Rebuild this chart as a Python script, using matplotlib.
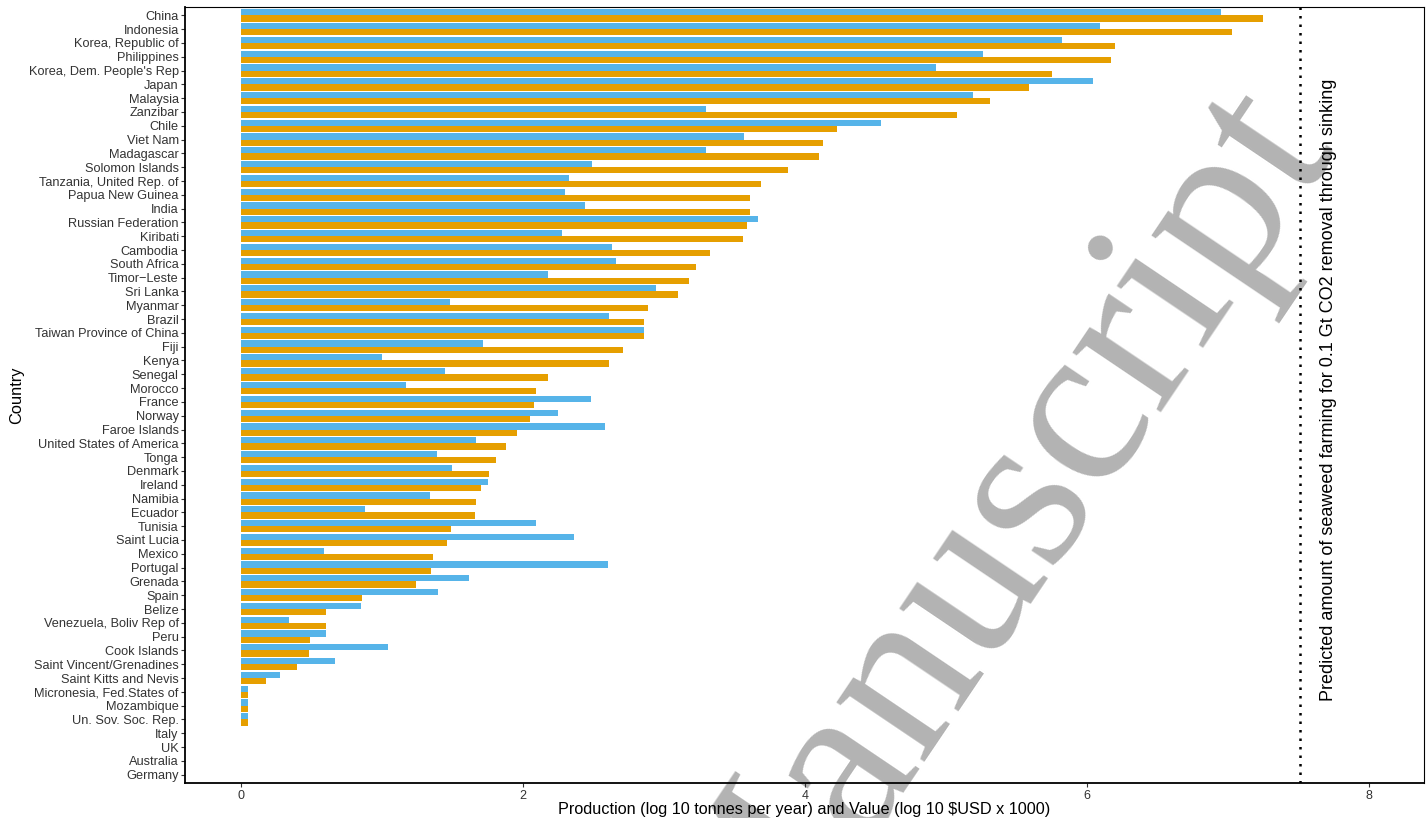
import matplotlib
matplotlib.use("Agg")
import matplotlib.pyplot as plt
import numpy as np

countries = [
    "China", "Indonesia", "Korea, Republic of", "Philippines", "Korea, Dem. People's Rep",
    "Japan", "Malaysia", "Zanzibar", "Chile", "Viet Nam", "Madagascar", "Solomon Islands",
    "Tanzania, United Rep. of", "Papua New Guinea", "India", "Russian Federation", "Kiribati",
    "Cambodia", "South Africa", "Timor\u2212Leste", "Sri Lanka", "Myanmar", "Brazil",
    "Taiwan Province of China", "Fiji", "Kenya", "Senegal", "Morocco", "France", "Norway",
    "Faroe Islands", "United States of America", "Tonga", "Denmark", "Ireland", "Namibia",
    "Ecuador", "Tunisia", "Saint Lucia", "Mexico", "Portugal", "Grenada", "Spain", "Belize",
    "Venezuela, Boliv Rep of", "Peru", "Cook Islands", "Saint Vincent/Grenadines",
    "Saint Kitts and Nevis", "Micronesia, Fed.States of", "Mozambique", "Un. Sov. Soc. Rep.",
    "Italy", "UK", "Australia", "Germany",
]

# blue bars (upper bar of each pair)
blue_vals = [
    6.95, 6.09, 5.82, 5.26, 4.93, 6.04, 5.19, 3.30, 4.54, 3.57, 3.30, 2.49,
    2.33, 2.30, 2.44, 3.67, 2.28, 2.63, 2.66, 2.18, 2.94, 1.48, 2.61,
    2.86, 1.72, 1.00, 1.45, 1.17, 2.48, 2.25, 2.58, 1.67, 1.39, 1.50, 1.75, 1.34,
    0.88, 2.09, 2.36, 0.59, 2.60, 1.62, 1.40, 0.85, 0.34, 0.60, 1.04, 0.67,
    0.28, 0.05, 0.05, 0.05, 0, 0, 0, 0,
]

# orange bars (lower bar of each pair)
orange_vals = [
    7.25, 7.03, 6.20, 6.17, 5.75, 5.59, 5.31, 5.08, 4.23, 4.13, 4.10, 3.88,
    3.69, 3.61, 3.61, 3.59, 3.56, 3.33, 3.23, 3.18, 3.10, 2.89, 2.86,
    2.86, 2.71, 2.61, 2.18, 2.09, 2.08, 2.05, 1.96, 1.88, 1.81, 1.76, 1.70, 1.67,
    1.66, 1.49, 1.46, 1.36, 1.35, 1.24, 0.86, 0.60, 0.60, 0.49, 0.48, 0.40,
    0.18, 0.05, 0.05, 0.05, 0, 0, 0, 0,
]

target_line = 7.51
target_text = "Predicted amount of seaweed farming for 0.1 Gt CO2 removal through sinking"

plt.rcParams["font.family"] = ["Liberation Sans", "DejaVu Sans"]

fig = plt.figure(figsize=(14.26, 8.18), dpi=100)
ax = fig.add_axes([0.1297, 0.0428, 0.9986 - 0.1297, 0.9914 - 0.0428])
ax.set_facecolor("none")

y = np.arange(len(countries))
ax.barh(y - 0.225, blue_vals, height=0.45, color="#56B4E9", zorder=2)
ax.barh(y + 0.225, orange_vals, height=0.45, color="#E69F00", zorder=2)

ax.axvline(target_line, color="black", linestyle=(0, (1, 2.4)), lw=1.8, zorder=3)
ax.text(7.71, 27.1, target_text, rotation=90, ha="center", va="center",
        fontsize=13, color="black", zorder=3)

ax.set_xlim(-0.397, 8.39)
ax.set_ylim(len(countries) - 1 + 0.6, -0.6)
ax.set_xticks([0, 2, 4, 6, 8])
ax.set_yticks(y)
ax.set_yticklabels(countries)

ax.tick_params(axis="y", labelsize=9.2, colors="#333333", length=3, width=0.8, pad=1.5)
ax.tick_params(axis="x", labelsize=9, colors="#333333", length=3, width=0.8, pad=2)

for side in ["left", "bottom"]:
    ax.spines[side].set_linewidth(1.3)
for side in ["top", "right"]:
    ax.spines[side].set_linewidth(0.8)

ax.set_xlabel("Production (log 10 tonnes per year) and Value (log 10 $USD x 1000)",
              fontsize=11.7, labelpad=0)
ax.set_ylabel("Country", fontsize=11.8, labelpad=3)

# watermark behind the plot
fig.text(0.6977, 0.330, "Manuscript", rotation=56, fontsize=166,
         family=["Liberation Serif", "DejaVu Serif"], color="#b3b3b3",
         ha="center", va="center", rotation_mode="anchor", zorder=-1)

fig.savefig("out.png", dpi=100)
